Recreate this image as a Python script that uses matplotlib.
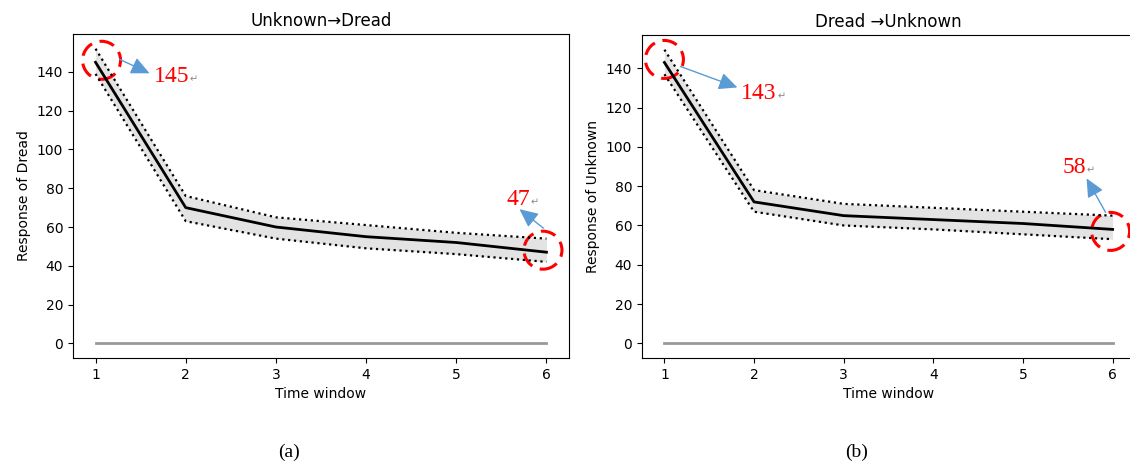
import numpy as np
import matplotlib.pyplot as plt
import matplotlib.patches as mpatches
import matplotlib.transforms as mtransforms

# time windows
windows = [1, 2, 3, 4, 5, 6]

# panel (a): Unknown -> Dread
dread_mean = [145, 70, 60, 55, 52, 47]
dread_upper = [152, 76, 65, 61, 57, 54]
dread_lower = [139, 63, 54, 49, 46, 42]

# panel (b): Dread -> Unknown
unknown_mean = [143, 72, 65, 63, 61, 58]
unknown_upper = [149.5, 78, 71, 69, 67, 65]
unknown_lower = [137, 67, 60, 58, 55.5, 53]

zero_line = [0, 0, 0, 0, 0, 0]

RED = "#ff0000"
BLUE = "#5b9bd5"


def callout(ax, x, y, label, circ_off, tail_off, tip_off, text_off, ret_dx):
    fig = ax.figure
    # dashed circle around the point
    ct = mtransforms.offset_copy(ax.transData, fig, x=circ_off[0], y=circ_off[1], units="dots")
    circ = mpatches.Circle((0, 0), radius=0.19, fill=False, edgecolor=RED, lw=2.2,
                           linestyle=(0, (5, 2.6)), clip_on=False,
                           transform=fig.dpi_scale_trans + mtransforms.ScaledTranslation(x, y, ct))
    ax.add_patch(circ)
    # arrow from circle edge toward the label
    tail_t = mtransforms.offset_copy(ax.transData, fig, x=tail_off[0], y=tail_off[1], units="dots")
    tip_t = mtransforms.offset_copy(ax.transData, fig, x=tip_off[0], y=tip_off[1], units="dots")
    ax.annotate("", xy=(x, y), xycoords=tip_t, xytext=(x, y), textcoords=tail_t,
                arrowprops=dict(arrowstyle="-|>,head_length=0.75,head_width=0.35",
                                color=BLUE, lw=1, mutation_scale=15,
                                shrinkA=0, shrinkB=0),
                annotation_clip=False)
    # red value label + return mark
    ax.annotate(label, xy=(x, y), xytext=text_off, textcoords="offset pixels",
                ha="left", va="baseline", color=RED, fontsize=17,
                family="Liberation Serif", annotation_clip=False)
    ax.annotate("\u21b5", xy=(x, y), xytext=(text_off[0] + ret_dx, text_off[1]),
                textcoords="offset pixels", ha="left", va="baseline",
                color="#888888", fontsize=7, annotation_clip=False)


def panel(ax, mean, upper, lower, title, ylabel):
    ax.fill_between(windows, lower, upper, color="#e3e3e3", lw=0)
    ax.plot(windows, upper, color="black", linestyle=":", lw=1.6)
    ax.plot(windows, lower, color="black", linestyle=":", lw=1.6)
    ax.plot(windows, mean, color="black", lw=2)
    ax.plot(windows, zero_line, color="#999999", lw=2)
    ax.set_title(title, fontsize=12)
    ax.set_xlabel("Time window")
    ax.set_ylabel(ylabel)
    ax.set_xticks(windows)
    ax.set_yticks(np.arange(0, 141, 20))


fig = plt.figure(figsize=(11.3, 4.68), dpi=100)
ax1 = fig.add_axes([73 / 1130, 110 / 468, 496 / 1130, 324 / 468])
ax2 = fig.add_axes([642 / 1130, 110 / 468, 493 / 1130, 323 / 468])

panel(ax1, dread_mean, dread_upper, dread_lower, "Unknown\u2192Dread", "Response of Dread")
panel(ax2, unknown_mean, unknown_upper, unknown_lower, "Dread \u2192Unknown", "Response of Unknown")

callout(ax1, windows[0], dread_mean[0], "145", (6, 2), (24, 3), (54, -11), (58, -20), 36)
callout(ax1, windows[-1], dread_mean[-1], "47", (-3.5, 2), (-3, 24), (-27, 43), (-40, 47), 24)
callout(ax2, windows[0], unknown_mean[0], "143", (0, 3), (16, -4), (73, -25), (77, -37), 36)
callout(ax2, windows[-1], unknown_mean[-1], "58", (-2, -2), (-7, 17), (-26, 51), (-50, 56), 24)

fig.text(289 / 1130, 1 - 452 / 468, "(a)", ha="center", va="center",
         family="Liberation Serif", fontsize=14)
fig.text(857 / 1130, 1 - 452 / 468, "(b)", ha="center", va="center",
         family="Liberation Serif", fontsize=14)

fig.savefig("out.png", dpi=100)
